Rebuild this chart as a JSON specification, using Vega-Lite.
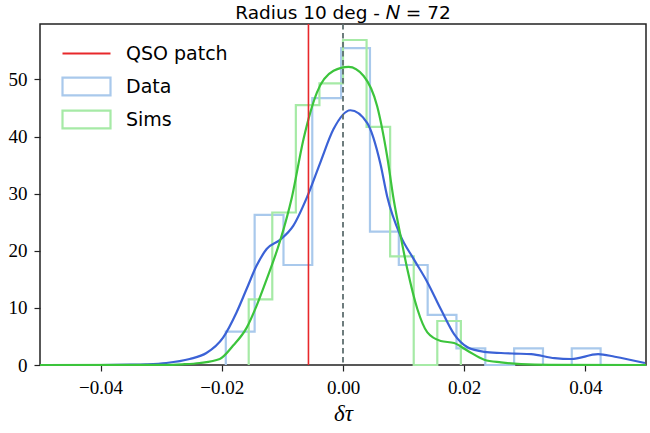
{
  "$schema": "https://vega.github.io/schema/vega-lite/v6.json",
  "width": 606,
  "height": 341,
  "autosize": {"type": "none"},
  "padding": {"left": 40, "top": 24, "right": 4, "bottom": 68},
  "background": "white",
  "title": {"text": "Radius 10 deg - 𝑁 = 72", "font": "DejaVu Sans", "fontSize": 18.5, "fontWeight": "normal", "color": "black", "offset": 1},
  "config": {
    "view": {"stroke": "#222222", "strokeWidth": 1.5}
  },
  "datasets": {
    "hist": [
      {"series": "Data", "k": 0, "x": -0.01934, "density": 0},
      {"series": "Data", "k": 1, "x": -0.01934, "density": 5.84},
      {"series": "Data", "k": 2, "x": -0.01458, "density": 26.27},
      {"series": "Data", "k": 3, "x": -0.00982, "density": 17.51},
      {"series": "Data", "k": 4, "x": -0.00507, "density": 46.71},
      {"series": "Data", "k": 5, "x": -0.00031, "density": 55.46},
      {"series": "Data", "k": 6, "x": 0.00445, "density": 23.35},
      {"series": "Data", "k": 7, "x": 0.00921, "density": 17.51},
      {"series": "Data", "k": 8, "x": 0.01397, "density": 8.76},
      {"series": "Data", "k": 9, "x": 0.01872, "density": 2.92},
      {"series": "Data", "k": 10, "x": 0.02348, "density": 0},
      {"series": "Data", "k": 11, "x": 0.02824, "density": 2.92},
      {"series": "Data", "k": 12, "x": 0.03300, "density": 0},
      {"series": "Data", "k": 13, "x": 0.03775, "density": 2.92},
      {"series": "Data", "k": 14, "x": 0.04251, "density": 0},
      {"series": "Sims", "k": 0, "x": -0.01556, "density": 0},
      {"series": "Sims", "k": 1, "x": -0.01556, "density": 11.5},
      {"series": "Sims", "k": 2, "x": -0.01167, "density": 26.7},
      {"series": "Sims", "k": 3, "x": -0.00778, "density": 45.5},
      {"series": "Sims", "k": 4, "x": -0.00389, "density": 49.3},
      {"series": "Sims", "k": 5, "x": 0.0, "density": 56.9},
      {"series": "Sims", "k": 6, "x": 0.00389, "density": 41.7},
      {"series": "Sims", "k": 7, "x": 0.00778, "density": 19.0},
      {"series": "Sims", "k": 8, "x": 0.01167, "density": 0},
      {"series": "Sims", "k": 9, "x": 0.01556, "density": 7.7},
      {"series": "Sims", "k": 10, "x": 0.01945, "density": 0}
    ],
    "kde_data": [
      {"x": -0.05, "y": 0},
      {"x": -0.04, "y": 0.0},
      {"x": -0.035, "y": 0.05},
      {"x": -0.0325, "y": 0.12},
      {"x": -0.02917, "y": 0.35},
      {"x": -0.02531, "y": 1.05},
      {"x": -0.02254, "y": 2.1},
      {"x": -0.01979, "y": 4.8},
      {"x": -0.01757, "y": 9.2},
      {"x": -0.01591, "y": 13.3},
      {"x": -0.01425, "y": 17.4},
      {"x": -0.0126, "y": 20.3},
      {"x": -0.01039, "y": 21.9},
      {"x": -0.00819, "y": 24.4},
      {"x": -0.00597, "y": 29.3},
      {"x": -0.00376, "y": 35.4},
      {"x": -0.00156, "y": 41.3},
      {"x": 0.00121, "y": 44.6},
      {"x": 0.00398, "y": 42.4},
      {"x": 0.00618, "y": 35.2},
      {"x": 0.00729, "y": 29.5},
      {"x": 0.0095, "y": 22.6},
      {"x": 0.0117, "y": 18.5},
      {"x": 0.01392, "y": 14.5},
      {"x": 0.01613, "y": 9.8},
      {"x": 0.01833, "y": 5.4},
      {"x": 0.02055, "y": 3.1},
      {"x": 0.02331, "y": 2.3},
      {"x": 0.02607, "y": 2.1},
      {"x": 0.02828, "y": 2.0},
      {"x": 0.03105, "y": 1.9},
      {"x": 0.03491, "y": 1.2},
      {"x": 0.03768, "y": 1.05},
      {"x": 0.0421, "y": 1.9},
      {"x": 0.04485, "y": 1.45},
      {"x": 0.04983, "y": 0.35}
    ],
    "kde_sims": [
      {"x": -0.05, "y": 0},
      {"x": -0.03, "y": 0.02},
      {"x": -0.0265, "y": 0.12},
      {"x": -0.02365, "y": 0.35},
      {"x": -0.02034, "y": 1.05},
      {"x": -0.01813, "y": 3.4},
      {"x": -0.01591, "y": 6.5},
      {"x": -0.01425, "y": 10.4},
      {"x": -0.0126, "y": 15.0},
      {"x": -0.01039, "y": 21.7},
      {"x": -0.00845, "y": 29.3},
      {"x": -0.00653, "y": 39.5},
      {"x": -0.00431, "y": 47.7},
      {"x": -0.00156, "y": 51.5},
      {"x": 0.00093, "y": 52.2},
      {"x": 0.00341, "y": 50.6},
      {"x": 0.00564, "y": 45.3},
      {"x": 0.00729, "y": 36.5},
      {"x": 0.00839, "y": 28.8},
      {"x": 0.0095, "y": 22.6},
      {"x": 0.01061, "y": 16.8},
      {"x": 0.01227, "y": 9.8},
      {"x": 0.01392, "y": 5.7},
      {"x": 0.01613, "y": 4.2},
      {"x": 0.01833, "y": 3.85},
      {"x": 0.02055, "y": 2.5},
      {"x": 0.02331, "y": 0.93},
      {"x": 0.02607, "y": 0.46},
      {"x": 0.0294, "y": 0.15},
      {"x": 0.034, "y": 0.02},
      {"x": 0.05, "y": 0}
    ],
    "qso": [{"series": "QSO patch", "x": -0.0057}],
    "zero": [{"x": 0}]
  },
  "encoding": {
    "x": {"field": "x", "type": "quantitative", "scale": {"domain": [-0.05, 0.05], "nice": false, "zero": false},
      "axis": {"values": [-0.04, -0.02, 0, 0.02, 0.04], "format": ".2f", "domain": false, "grid": false, "tickColor": "#222222", "tickSize": 6, "tickWidth": 1.2,
        "labelFont": "Liberation Serif", "labelFontSize": 19, "labelColor": "black", "labelPadding": 7,
        "title": "δτ", "titleFont": "Liberation Serif", "titleFontStyle": "italic", "titleFontWeight": "normal", "titleColor": "black", "titleFontSize": 23, "titlePadding": 5}}
  },
  "layer": [
    {
      "data": {"name": "hist"},
      "mark": {"type": "line", "interpolate": "step-after", "strokeWidth": 2.2},
      "encoding": {
        "y": {"field": "density", "type": "quantitative", "scale": {"domain": [0, 59.7], "nice": false},
          "axis": {"values": [0, 10, 20, 30, 40, 50], "title": null, "domain": false, "grid": false, "tickColor": "#222222", "tickSize": 6, "tickWidth": 1.2,
            "labelFont": "Liberation Serif", "labelFontSize": 19, "labelColor": "black", "labelPadding": 7}},
        "order": {"field": "k", "type": "quantitative"},
        "detail": {"field": "series"},
        "color": {"field": "series", "type": "nominal",
          "scale": {"domain": ["QSO patch", "Data", "Sims"], "range": ["#e8282b", "#a9c9ec", "#a6eaa6"]},
          "legend": {"orient": "none", "legendX": 37, "legendY": 20, "title": null, "labelFont": "DejaVu Sans", "labelFontSize": 19, "labelColor": "black", "labelOffset": 30, "symbolSize": 144, "symbolStrokeWidth": 2.2, "rowPadding": 6,
            "encode": {"symbols": {"update": {"shape": {"signal": "datum.value === 'QSO patch' ? 'M-4,-1.48M-4,0H4M-4,1.48' : 'M-4,-1.48H4V1.48H-4Z'"}, "fill": {"value": "transparent"}}}}}}
      }
    },
    {
      "data": {"name": "kde_data"},
      "mark": {"type": "line", "interpolate": "monotone", "strokeWidth": 2.2, "color": "#3b62d6"},
      "encoding": {"y": {"field": "y", "type": "quantitative"}}
    },
    {
      "data": {"name": "kde_sims"},
      "mark": {"type": "line", "interpolate": "monotone", "strokeWidth": 2.2, "color": "#3cc43c"},
      "encoding": {"y": {"field": "y", "type": "quantitative"}}
    },
    {
      "data": {"name": "qso"},
      "mark": {"type": "rule", "strokeWidth": 1.6},
      "encoding": {"color": {"field": "series", "type": "nominal"}}
    },
    {
      "data": {"name": "zero"},
      "mark": {"type": "rule", "strokeWidth": 1.8, "color": "#5f6f70", "strokeDash": [5.5, 3.5]},
      "encoding": {}
    }
  ]
}
